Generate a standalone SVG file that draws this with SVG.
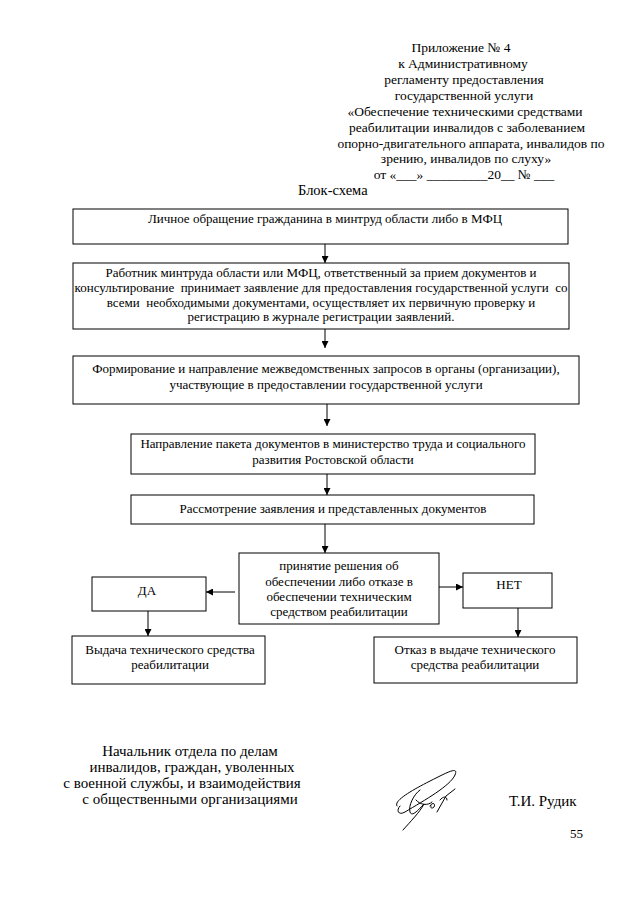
<svg xmlns="http://www.w3.org/2000/svg" width="640" height="905" viewBox="0 0 640 905">
<style>
text{font-family:"Liberation Serif","Times New Roman",serif;fill:#000;white-space:pre}
.h{font-size:13.5px;text-anchor:middle}
.b{font-size:13px;text-anchor:middle}
.f{font-size:15px;text-anchor:middle}
.box{fill:none;stroke:#000;stroke-width:1}
.c{stroke:#000;stroke-width:1;fill:none}
.sig{stroke:#000;stroke-width:1;fill:none;stroke-linecap:round}
</style>
<defs>
<marker id="ar" viewBox="0 0 10 10" refX="10" refY="5" markerWidth="7" markerHeight="7" markerUnits="userSpaceOnUse" orient="auto">
<path d="M0,0 L10,5 L0,10 z" fill="#000"/>
</marker>
</defs>
<rect width="640" height="905" fill="#fff"/>
<g id="header">
<text class="h" x="461" y="52">Приложение № 4</text>
<text class="h" x="463" y="68">к Административному</text>
<text class="h" x="464" y="84">регламенту предоставления</text>
<text class="h" x="464" y="100">государственной услуги</text>
<text class="h" x="465" y="116">«Обеспечение техническими средствами</text>
<text class="h" x="467" y="132">реабилитации инвалидов с заболеванием</text>
<text class="h" x="471" y="148">опорно-двигательного аппарата, инвалидов по</text>
<text class="h" x="466" y="163">зрению, инвалидов по слуху»</text>
<text class="h" x="464" y="179">от «___» _________20__ № ___</text>
<text x="298" y="195" style="font-size:14.5px">Блок-схема</text>
</g>
<g id="n1">
<rect class="box" x="73" y="209" width="495" height="35"/>
<text class="b" x="325" y="223">Личное обращение гражданина в минтруд области либо в МФЦ</text>
</g>
<g id="n2">
<rect class="box" x="73" y="263" width="496" height="66"/>
<text class="b" x="321" y="277">Работник минтруда области или МФЦ, ответственный за прием документов и</text>
<text class="b" x="321" y="292">консультирование  принимает заявление для предоставления государственной услуги  со</text>
<text class="b" x="321" y="307">всеми  необходимыми документами, осуществляет их первичную проверку и</text>
<text class="b" x="321" y="321">регистрацию в журнале регистрации заявлений.</text>
</g>
<g id="n3">
<rect class="box" x="73" y="356" width="506" height="48"/>
<text class="b" x="326" y="373">Формирование и направление межведомственных запросов в органы (организации),</text>
<text class="b" x="326" y="389">участвующие в предоставлении государственной услуги</text>
</g>
<g id="n4">
<rect class="box" x="131" y="434" width="404" height="40"/>
<text class="b" x="333" y="448">Направление пакета документов в министерство труда и социального</text>
<text class="b" x="333" y="464">развития Ростовской области</text>
</g>
<g id="n5">
<rect class="box" x="131" y="495" width="403" height="29"/>
<text class="b" x="333" y="513">Рассмотрение заявления и представленных документов</text>
</g>
<g id="n6">
<rect class="box" x="239" y="553" width="200" height="71"/>
<text class="b" x="339" y="570">принятие решения об</text>
<text class="b" x="339" y="586">обеспечении либо отказе в</text>
<text class="b" x="339" y="601">обеспечении техническим</text>
<text class="b" x="339" y="616">средством реабилитации</text>
</g>
<g id="n7">
<rect class="box" x="92" y="577" width="114" height="34"/>
<text class="b" x="147" y="595">ДА</text>
</g>
<g id="n8">
<rect class="box" x="463" y="573" width="89" height="35"/>
<text class="b" x="509" y="589">НЕТ</text>
</g>
<g id="n9">
<rect class="box" x="72" y="636" width="193" height="48"/>
<text class="b" x="170" y="654">Выдача технического средства</text>
<text class="b" x="170" y="669">реабилитации</text>
</g>
<g id="n10">
<rect class="box" x="374" y="637" width="203" height="46"/>
<text class="b" x="475" y="654">Отказ в выдаче технического</text>
<text class="b" x="475" y="669">средства реабилитации</text>
</g>
<g id="connectors">
<line class="c" x1="325" y1="244" x2="325" y2="263" marker-end="url(#ar)"/>
<line class="c" x1="325" y1="329" x2="325" y2="348" marker-end="url(#ar)"/>
<line class="c" x1="327" y1="404" x2="327" y2="426" marker-end="url(#ar)"/>
<line class="c" x1="327" y1="474" x2="327" y2="495" marker-end="url(#ar)"/>
<line class="c" x1="325" y1="524" x2="325" y2="553" marker-end="url(#ar)"/>
<line class="c" x1="235" y1="592" x2="206" y2="592" marker-end="url(#ar)"/>
<line class="c" x1="439" y1="587" x2="463" y2="587" marker-end="url(#ar)"/>
<line class="c" x1="148" y1="611" x2="148" y2="636" marker-end="url(#ar)"/>
<line class="c" x1="518" y1="608" x2="518" y2="637" marker-end="url(#ar)"/>
</g>
<g id="footer">
<text class="f" x="190" y="756">Начальник отдела по делам</text>
<text class="f" x="192" y="772">инвалидов, граждан, уволенных</text>
<text class="f" x="182" y="788">с военной службы, и взаимодействия</text>
<text class="f" x="190" y="804">с общественными организациями</text>
<text x="509" y="806" style="font-size:15px">Т.И. Рудик</text>
<text x="570" y="838" style="font-size:13px">55</text>
</g>
<g id="signature">
<path class="sig" d="M397,806 C392,800 420,786 440,776 C452,770 458,768 455,775 C450,786 425,800 405,812 C398,816 396,810 400,806"/>
<path class="sig" d="M420,790 C414,794 408,806 410,812 C412,818 420,808 424,804 C420,812 410,822 403,830"/>
<path class="sig" d="M416,800 C420,805 428,806 432,802"/>
<path class="sig" d="M430,806 C432,802 436,803 434,807 C432,809 430,808 431,806"/>
<path class="sig" d="M437,812 L446,796 L455,789"/>
<path class="sig" d="M440,800 C443,796 447,796 447,800"/>
</g>
</svg>
